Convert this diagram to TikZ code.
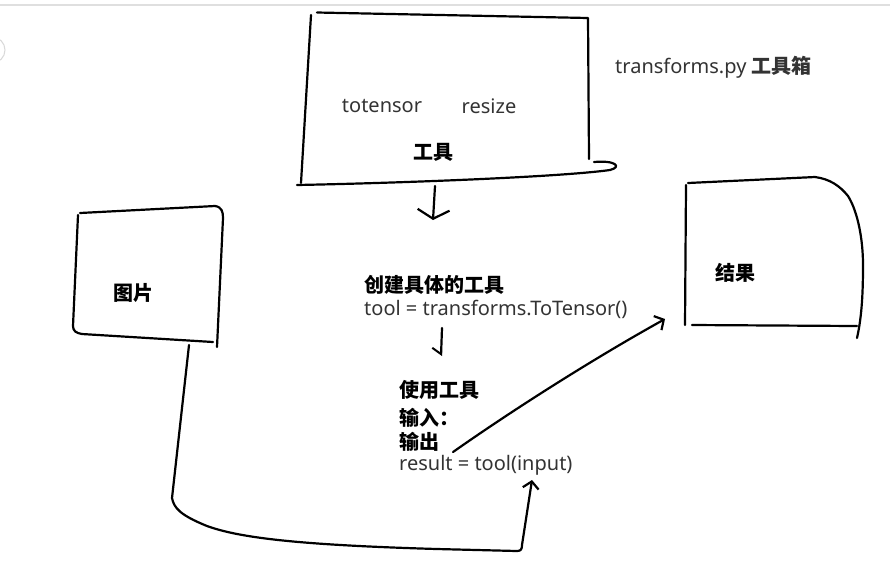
\documentclass[tikz,border=0pt]{standalone}
\usepackage{fontspec}
\setmainfont{Noto Sans}
\newfontfamily\cjk{Noto Sans CJK SC}
\usetikzlibrary{arrows.meta}
\tikzset{
  stroke/.style={line width=2.2pt, line cap=round, line join=round, black},
  hand/.style={inner sep=0pt, text=black!80, font=\fontsize{20}{24}\selectfont},
  cjkbold/.style={inner sep=0pt, text=black, font=\cjk\bfseries\fontsize{20}{24}\selectfont},
  bigV/.style={-{Straight Barb[length=9pt,width=32pt,line width=2.2pt]}},
  smallV/.style={-{Straight Barb[length=7pt,width=16pt,line width=2.2pt]}},
  hookV/.style={-{Straight Barb[length=6pt,width=18pt,harpoon,swap,line width=2pt]}}
}
\begin{document}
\begin{tikzpicture}[x=1pt,y=-1pt]
\useasboundingbox (0,0) rectangle (890,566);
\fill[white] (0,0) rectangle (890,566);
% screen chrome
\draw[gray!25, line width=2pt] (0,5) -- (890,5);
\draw[gray!30, line width=1pt] (-8,50) circle (13);

% tool box
\draw[stroke] (317,12.5) -- (588,18) -- (589,159);
\draw[stroke] (311,15) -- (301,183);
\draw[stroke] (297,185) .. controls (400,183) and (560,177) .. (610,170)
  .. controls (622,167) and (616,160) .. (594,162);
\coordinate (toolbot) at (435,186);
\coordinate (a1end) at (433,220);
\node[hand] (totensor) at (382,106) {totensor};
\node[hand] (resize) at (489,106) {resize};
\node[cjkbold] (gongju) at (433,152) {工具};

% toolbox title
\node[hand, anchor=west] (tfpy) at (615,67) {transforms.py {\cjk\bfseries 工具箱}};

% picture box
\draw[stroke] (80,213) -- (215,206) .. controls (222,207) and (223,212) .. (223,218) -- (217,347);
\draw[stroke] (78,215) -- (73,326) .. controls (73,331) and (76,333) .. (82,334) -- (213,342);
\node[cjkbold] (tupian) at (133,293) {图片};
\coordinate (picbot) at (189,345);

% result box
\draw[stroke] (688,183) -- (815,177) .. controls (830,179) and (840,186) .. (848,196)
  .. controls (858,212) and (863,240) .. (863,265) .. controls (863,300) and (861,320) .. (857,338);
\draw[stroke] (686,185) -- (685,325);
\draw[stroke] (692,325) -- (857,326);
\node[cjkbold] (jieguo) at (735,273) {结果};
\coordinate (resin) at (665,319);

% middle texts
\node[cjkbold, anchor=west] (chuangjian) at (364,285) {创建具体的工具};
\node[hand, anchor=west] (toolline) at (364,309) {tool = transforms.ToTensor()};
\node[cjkbold, anchor=west] (shiyong) at (399,390) {使用工具};
\node[cjkbold, anchor=west] (shuru) at (399,418) {输入：};
\node[cjkbold, anchor=west] (shuchu) at (399,442) {输出};
\node[hand, anchor=west] (resline) at (399,465) {result = tool(input)};
\coordinate (a2start) at (442,328);
\coordinate (a2end) at (441,356);
\coordinate (outstart) at (453,452);
\coordinate (inputtip) at (532,480);

% connectors
\draw[stroke, bigV] (toolbot) -- (a1end);
\draw[stroke, hookV] (a2start) -- (a2end);
\draw[stroke, smallV] (outstart) .. controls (520,405) and (600,355) .. (resin);
\draw[stroke, smallV] (picbot) -- (172,498) .. controls (174,508) and (180,515) .. (207,526)
  .. controls (240,538) and (300,545) .. (437,549) -- (517,551)
  .. controls (521,551) and (522,549) .. (522,545) -- (inputtip);
\end{tikzpicture}
\end{document}
